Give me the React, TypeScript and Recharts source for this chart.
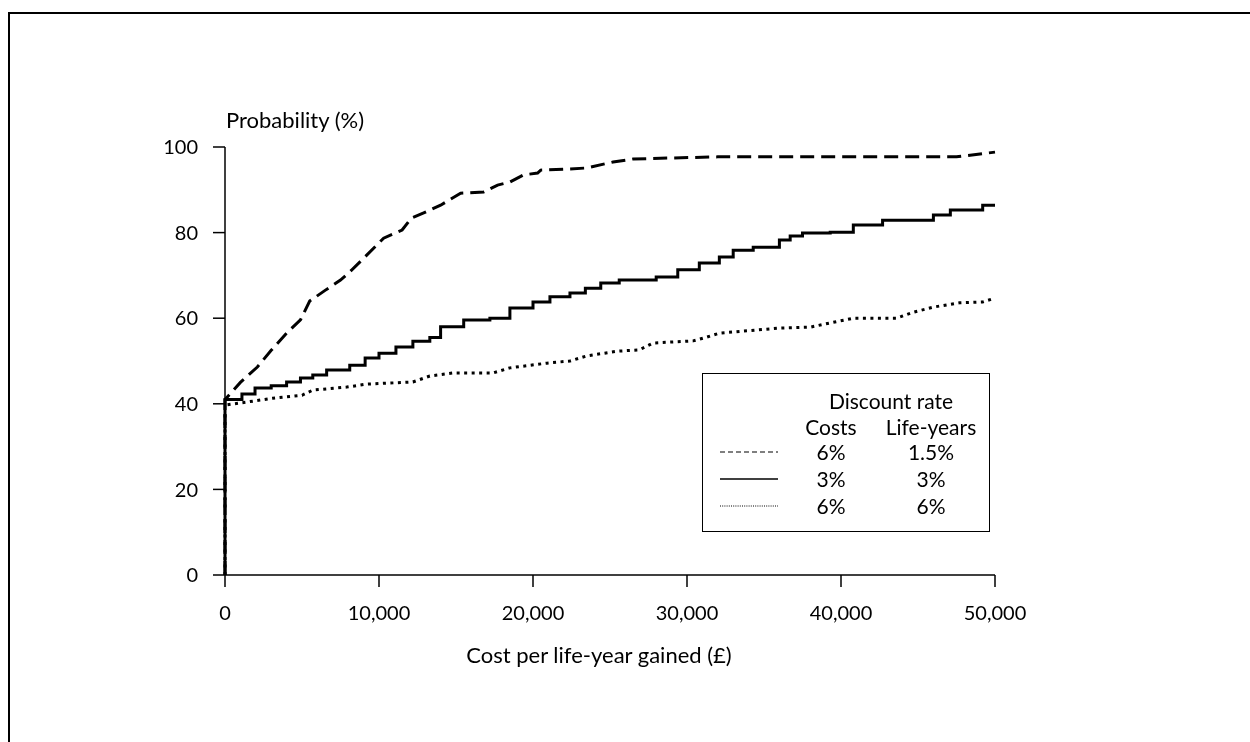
import React from 'react';
import { LineChart, Line, XAxis, YAxis } from 'recharts';

// cumulative probability (%) that cost per life-year gained is below x (£)
const costs6Life15 = [
  { x: 0, y: 0 }, { x: 0, y: 41 }, { x: 500, y: 43 }, { x: 1000, y: 45 }, { x: 2100, y: 48.6 },
  { x: 3000, y: 52.5 }, { x: 4000, y: 56.5 }, { x: 4900, y: 59.6 }, { x: 5500, y: 64 },
  { x: 6500, y: 66.5 }, { x: 7500, y: 68.9 }, { x: 8100, y: 70.8 }, { x: 9000, y: 74 },
  { x: 10300, y: 78.7 }, { x: 11500, y: 80.6 }, { x: 12100, y: 83.4 }, { x: 12900, y: 84.6 },
  { x: 14000, y: 86.4 }, { x: 15300, y: 89.2 }, { x: 16800, y: 89.5 }, { x: 17700, y: 91.1 },
  { x: 18500, y: 91.8 }, { x: 19400, y: 93.5 }, { x: 20300, y: 93.9 }, { x: 20500, y: 94.6 },
  { x: 22000, y: 94.8 }, { x: 23500, y: 95.1 }, { x: 25200, y: 96.5 }, { x: 26500, y: 97.2 },
  { x: 32000, y: 97.7 }, { x: 47500, y: 97.7 }, { x: 50000, y: 98.8 },
];

const costs3Life3 = [
  { x: 0, y: 0 }, { x: 0, y: 41 }, { x: 1100, y: 42.3 }, { x: 1950, y: 43.7 }, { x: 3000, y: 44.2 },
  { x: 4000, y: 45.1 }, { x: 4900, y: 46 }, { x: 5700, y: 46.7 }, { x: 6600, y: 47.9 },
  { x: 8100, y: 49 }, { x: 9100, y: 50.7 }, { x: 10000, y: 51.8 }, { x: 11100, y: 53.3 },
  { x: 12200, y: 54.6 }, { x: 13300, y: 55.5 }, { x: 14000, y: 58 }, { x: 15500, y: 59.6 },
  { x: 17200, y: 60 }, { x: 18500, y: 62.4 }, { x: 20000, y: 63.8 }, { x: 21100, y: 65 },
  { x: 22400, y: 65.9 }, { x: 23400, y: 67 }, { x: 24400, y: 68.2 }, { x: 25600, y: 68.9 },
  { x: 28000, y: 69.6 }, { x: 29400, y: 71.3 }, { x: 30800, y: 72.9 }, { x: 32100, y: 74.3 },
  { x: 33000, y: 75.9 }, { x: 34300, y: 76.6 }, { x: 36000, y: 78.3 }, { x: 36700, y: 79.2 },
  { x: 37500, y: 79.9 }, { x: 39300, y: 80.1 }, { x: 40800, y: 81.8 }, { x: 42700, y: 82.9 },
  { x: 46000, y: 84.1 }, { x: 47100, y: 85.3 }, { x: 49200, y: 86.4 }, { x: 50000, y: 86.4 },
];

const costs6Life6 = [
  { x: 0, y: 0 }, { x: 0, y: 39.7 }, { x: 1400, y: 40.4 }, { x: 3100, y: 41.3 }, { x: 5000, y: 42 },
  { x: 5700, y: 43.2 }, { x: 7900, y: 43.9 }, { x: 9200, y: 44.6 }, { x: 12200, y: 45.1 },
  { x: 13300, y: 46.5 }, { x: 14800, y: 47.2 }, { x: 17400, y: 47.2 }, { x: 18500, y: 48.4 },
  { x: 20900, y: 49.5 }, { x: 22400, y: 50 }, { x: 23500, y: 51.2 }, { x: 25500, y: 52.3 },
  { x: 26900, y: 52.6 }, { x: 27800, y: 54.2 }, { x: 30400, y: 54.7 }, { x: 31300, y: 55.6 },
  { x: 32100, y: 56.5 }, { x: 36000, y: 57.7 }, { x: 38000, y: 57.9 }, { x: 39300, y: 58.9 },
  { x: 40800, y: 60 }, { x: 43600, y: 60 }, { x: 44700, y: 61.4 }, { x: 46000, y: 62.6 },
  { x: 47700, y: 63.6 }, { x: 49200, y: 63.8 }, { x: 50000, y: 64.7 },
];

const xTicks = [0, 10000, 20000, 30000, 40000, 50000];
const yTicks = [0, 20, 40, 60, 80, 100];

const legendRows = [
  { costs: '6%', life: '1.5%', dash: '5 3', width: 1.2 },
  { costs: '3%', life: '3%', dash: undefined, width: 1.5 },
  { costs: '6%', life: '6%', dash: '1 1.2', width: 1 },
];

const FONT = 'Lato, "Open Sans", sans-serif';
const tickStyle = { fill: '#000', fontSize: 20, fontFamily: FONT };

function DiscountLegend() {
  const cell = (text: string, cx: number, cy: number) => (
    <div style={{ position: 'absolute', left: cx - 70, width: 140, top: cy - 13, height: 26, lineHeight: '26px', textAlign: 'center' }}>{text}</div>
  );
  return (
    <div style={{ position: 'absolute', left: 692, top: 359, width: 288, height: 159, border: '1.5px solid #000', boxSizing: 'border-box', fontSize: 21, color: '#000' }}>
      {cell('Discount rate', 188, 27)}
      {cell('Costs', 128, 53)}
      {cell('Life-years', 228, 53)}
      {legendRows.map((r, i) => (
        <React.Fragment key={i}>
          <svg style={{ position: 'absolute', left: 17, top: 78 + i * 27 - 3 }} width={60} height={6}>
            <line x1={0} y1={3} x2={58} y2={3} stroke="#000" strokeWidth={r.width} strokeDasharray={r.dash} />
          </svg>
          {cell(r.costs, 128, 78 + i * 27)}
          {cell(r.life, 228, 78 + i * 27)}
        </React.Fragment>
      ))}
    </div>
  );
}

export default function App() {
  return (
    <div style={{ padding: '6px 0 0 2px' }}>
      <div style={{ position: 'fixed', left: 8, top: 12, width: 1400, height: 900, borderLeft: '2px solid #000', borderTop: '2px solid #000', pointerEvents: 'none' }} />
      <div style={{ position: 'relative', width: 1230, height: 720, fontFamily: FONT }}>
        <LineChart width={1230} height={720} margin={{ top: 133, right: 245, bottom: 59, left: 155 }}>
          <XAxis
            type="number"
            dataKey="x"
            domain={[0, 50000]}
            ticks={xTicks}
            tickFormatter={(v: number) => v.toLocaleString('en-US')}
            tick={tickStyle}
            tickSize={12}
            tickMargin={19}
            height={100}
            stroke="#000"
            strokeWidth={1.5}
            label={{ value: 'Cost per life-year gained (£)', position: 'insideBottom', offset: 12, dx: -11, fill: '#000', fontSize: 22, fontFamily: FONT }}
          />
          <YAxis
            type="number"
            dataKey="y"
            domain={[0, 100]}
            ticks={yTicks}
            tick={tickStyle}
            tickSize={12}
            tickMargin={15}
            width={60}
            stroke="#000"
            strokeWidth={1.5}
          />
          <Line data={costs6Life6} dataKey="y" type="linear" stroke="#000" strokeWidth={3} strokeDasharray="3 4.5" dot={false} isAnimationActive={false} />
          <Line data={costs3Life3} dataKey="y" type="stepAfter" stroke="#000" strokeWidth={3} dot={false} isAnimationActive={false} />
          <Line data={costs6Life15} dataKey="y" type="linear" stroke="#000" strokeWidth={3} strokeDasharray="14 7" dot={false} isAnimationActive={false} />
        </LineChart>
        <div style={{ position: 'absolute', left: 216, top: 92, fontSize: 22, color: '#000', lineHeight: '28px' }}>Probability (%)</div>
        <DiscountLegend />
      </div>
    </div>
  );
}
